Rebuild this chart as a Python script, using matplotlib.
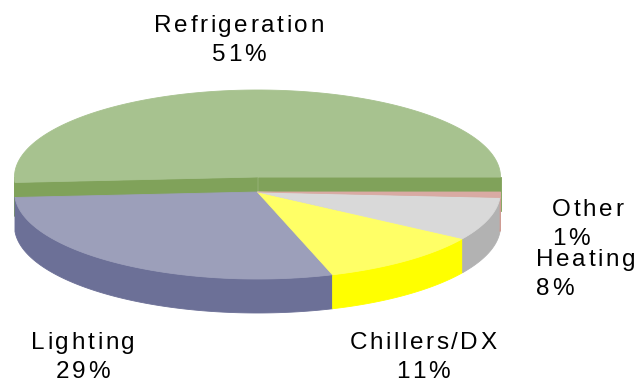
import numpy as np
import matplotlib
matplotlib.use("Agg")
import matplotlib.pyplot as plt
from matplotlib.patches import Polygon
from matplotlib.font_manager import FontProperties

# energy use breakdown
labels = ["Refrigeration", "Lighting", "Chillers/DX", "Heating", "Other"]
shares = [51, 29, 11, 8, 1]

top_colors = ["#A7C28F", "#9C9FBA", "#FFFF66", "#D9D9D9", "#D9AAA3"]
side_colors = ["#80A25A", "#6C7097", "#FFFF00", "#B2B2B2", "#CF9C94"]

# label anchor (x, baseline of first line) and alignment
label_pos = [(239, 32, "center"), (83, 349, "center"), (423, 349, "center"),
             (536, 266, "left"), (552, 216, "left")]

W, H = 643, 385
CX, CY = 257.5, 192.0     # pie centre in pixels
A, B = 243.0, 87.0        # ellipse half axes
DEPTH = 34.0              # thickness of the disc
LIFT = [15.0, 0, 0, 0, 0]  # first slice pulled back

fig = plt.figure(figsize=(W / 100, H / 100), dpi=100)
ax = fig.add_axes([0, 0, 1, 1])
ax.set_xlim(0, W)
ax.set_ylim(H, 0)
ax.axis("off")


def rim(theta, cy):
    t = np.radians(theta)
    return np.column_stack([CX + A * np.cos(t), cy - B * np.sin(t)])


def patch(pts, color, z):
    ax.add_patch(Polygon(pts, closed=True, facecolor=color, edgecolor=color,
                         lw=0.6, zorder=z))


angles = np.concatenate([[0], np.cumsum(shares) / sum(shares) * 360])
n = len(shares)

# walls first, then the top faces
for i in range(n):
    a0, a1 = angles[i], angles[i + 1]
    cy = CY - LIFT[i]
    c = np.array([CX, cy])
    down = np.array([0, DEPTH])
    # radial faces only show where the neighbour sits apart
    if LIFT[i] != LIFT[i - 1] and np.cos(np.radians(a0)) > 1e-9:
        p = rim(a0, cy)[0]
        patch([c, p, p + down, c + down], side_colors[i], 1 + i)
    if LIFT[i] != LIFT[(i + 1) % n] and np.cos(np.radians(a1)) < -1e-9:
        p = rim(a1, cy)[0]
        patch([c, p, p + down, c + down], side_colors[i], 1 + i)
    # outer wall on the front half
    lo, hi = max(a0, 180), min(a1, 360)
    if hi > lo:
        arc = rim(np.linspace(lo, hi, 200), cy)
        patch(np.vstack([arc, (arc + down)[::-1]]), side_colors[i], 1 + i)

for i in range(n):
    cy = CY - LIFT[i]
    arc = rim(np.linspace(angles[i], angles[i + 1], 300), cy)
    patch(np.vstack([[CX, cy], arc]), top_colors[i], 10)

fp = FontProperties(family=["Liberation Sans", "DejaVu Sans"], size=17.5)
renderer = fig.canvas.get_renderer()


def spaced_text(x, y, s, ha, track=2.6):
    widths = [renderer.get_text_width_height_descent(ch, fp, ismath=False)[0]
              for ch in s]
    total = sum(widths) + track * (len(s) - 1)
    x0 = x - total / 2 if ha == "center" else x
    for ch, w in zip(s, widths):
        ax.text(x0, y, ch, fontproperties=fp, ha="left", va="baseline",
                color="black", zorder=20)
        x0 += w + track


LINE = 29
for name, val, (x, y, ha) in zip(labels, shares, label_pos):
    spaced_text(x, y, name, ha)
    spaced_text(x, y + LINE, f"{val}%", ha)

fig.savefig("out.png", dpi=100)
